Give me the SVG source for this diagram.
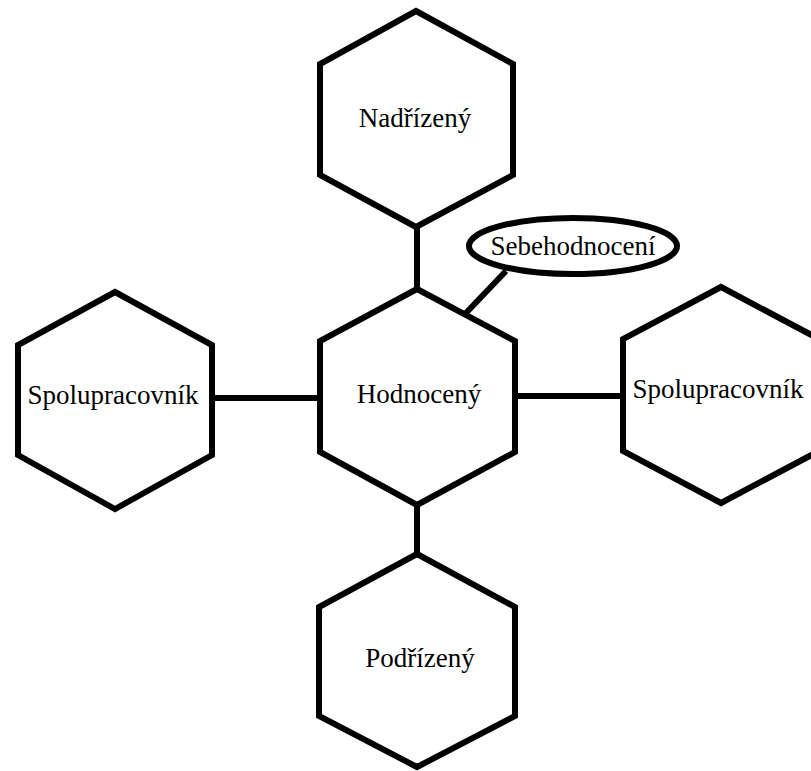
<svg xmlns="http://www.w3.org/2000/svg" width="811" height="771" viewBox="0 0 811 771">
  <style>
    .shape { fill: #ffffff; stroke: #000000; stroke-width: 6; stroke-linejoin: miter; }
    .link { stroke: #000000; stroke-width: 6; fill: none; }
    .label { font-family: "Liberation Serif", "Times New Roman", serif; font-size: 27px; fill: #000000; text-anchor: middle; }
  </style>
  <rect width="811" height="771" fill="#ffffff"/>

  <!-- connectors -->
  <g id="connectors">
    <line class="link" x1="417" y1="226" x2="417" y2="290"/>
    <line class="link" x1="417" y1="503" x2="417" y2="556"/>
    <line class="link" x1="211" y1="398" x2="321" y2="398"/>
    <line class="link" x1="514" y1="396" x2="624" y2="396"/>
    <line class="link" x1="506" y1="271" x2="465" y2="314"/>
  </g>

  <g id="nadrizeny">
    <polygon class="shape" points="416,11 513,64 513,175 416,227 320,175 320,64"/>
    <text class="label" x="415" y="127">Nadřízený</text>
  </g>

  <g id="hodnoceny">
    <polygon class="shape" points="417,289 515,341 515,452 417,505 320,452 320,341"/>
    <text class="label" x="419" y="403">Hodnocený</text>
  </g>

  <g id="spolupracovnik-left">
    <polygon class="shape" points="115,292 212,345 212,455 115,509 18,455 18,345"/>
    <text class="label" x="113" y="404">Spolupracovník</text>
  </g>

  <g id="spolupracovnik-right">
    <polygon class="shape" points="721,287 819,339 819,451 721,503 623,451 623,339"/>
    <text class="label" x="718" y="398">Spolupracovník</text>
  </g>

  <g id="podrizeny">
    <polygon class="shape" points="417,554 515,607 515,716 417,767 319,716 319,607"/>
    <text class="label" x="420" y="667">Podřízený</text>
  </g>

  <g id="sebehodnoceni">
    <ellipse class="shape" cx="573" cy="246" rx="104" ry="28"/>
    <text class="label" x="573" y="255">Sebehodnocení</text>
  </g>
</svg>
